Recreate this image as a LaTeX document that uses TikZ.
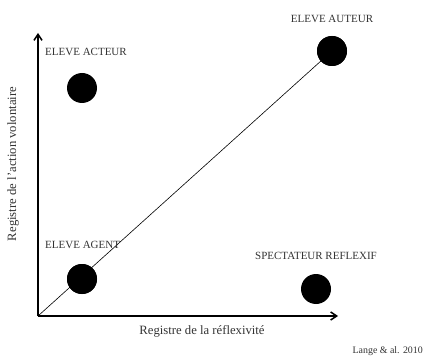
\documentclass[tikz,border=0pt]{standalone}
\usepackage{fontspec}
\setmainfont{Liberation Serif}
\usetikzlibrary{arrows.meta}
\begin{document}
\begin{tikzpicture}[x=1pt,y=-1pt,
  dot/.style={circle,fill=black,minimum size=30pt,inner sep=0pt},
  lab/.style={font=\fontsize{11}{12}\selectfont,text=black!80,inner sep=0pt},
  axlab/.style={font=\fontsize{12.7}{14}\selectfont,text=black!80,inner sep=0pt},
  axis/.style={line width=2pt,-{Straight Barb[length=6pt,width=8pt,line width=1.5pt]}}]
\useasboundingbox (0,0) rectangle (428,358);
\coordinate (o) at (38,316);
\coordinate (ytop) at (38,33);
\coordinate (xend) at (338,316);
\node[dot] (acteur) at (82,88) {};
\node[dot] (auteur) at (332,51) {};
\node[dot] (agent) at (82,279) {};
\node[dot] (spect) at (316,289) {};
\draw[line width=0.6pt] (o) -- (auteur.center);
\node[dot] at (auteur) {};
\node[dot] at (agent) {};
\draw[axis] (o) -- (ytop);
\draw[axis] (o) -- (xend);
\node[lab,anchor=west] (tacteur) at (45,52) {ELEVE ACTEUR};
\node[lab] (tauteur) at (332,19) {ELEVE AUTEUR};
\node[lab,anchor=west] (tagent) at (45,245) {ELEVE AGENT};
\node[lab] (tspect) at (316,256) {SPECTATEUR REFLEXIF};
\node[axlab] (xlab) at (202,331) {Registre de la réflexivité};
\node[axlab,rotate=90] (ylab) at (13,164) {Registre de l'action volontaire};
\node[lab,anchor=east,font=\fontsize{9.9}{11}\selectfont] (cite) at (423,351) {Lange \& al. 2010};
\end{tikzpicture}
\end{document}
